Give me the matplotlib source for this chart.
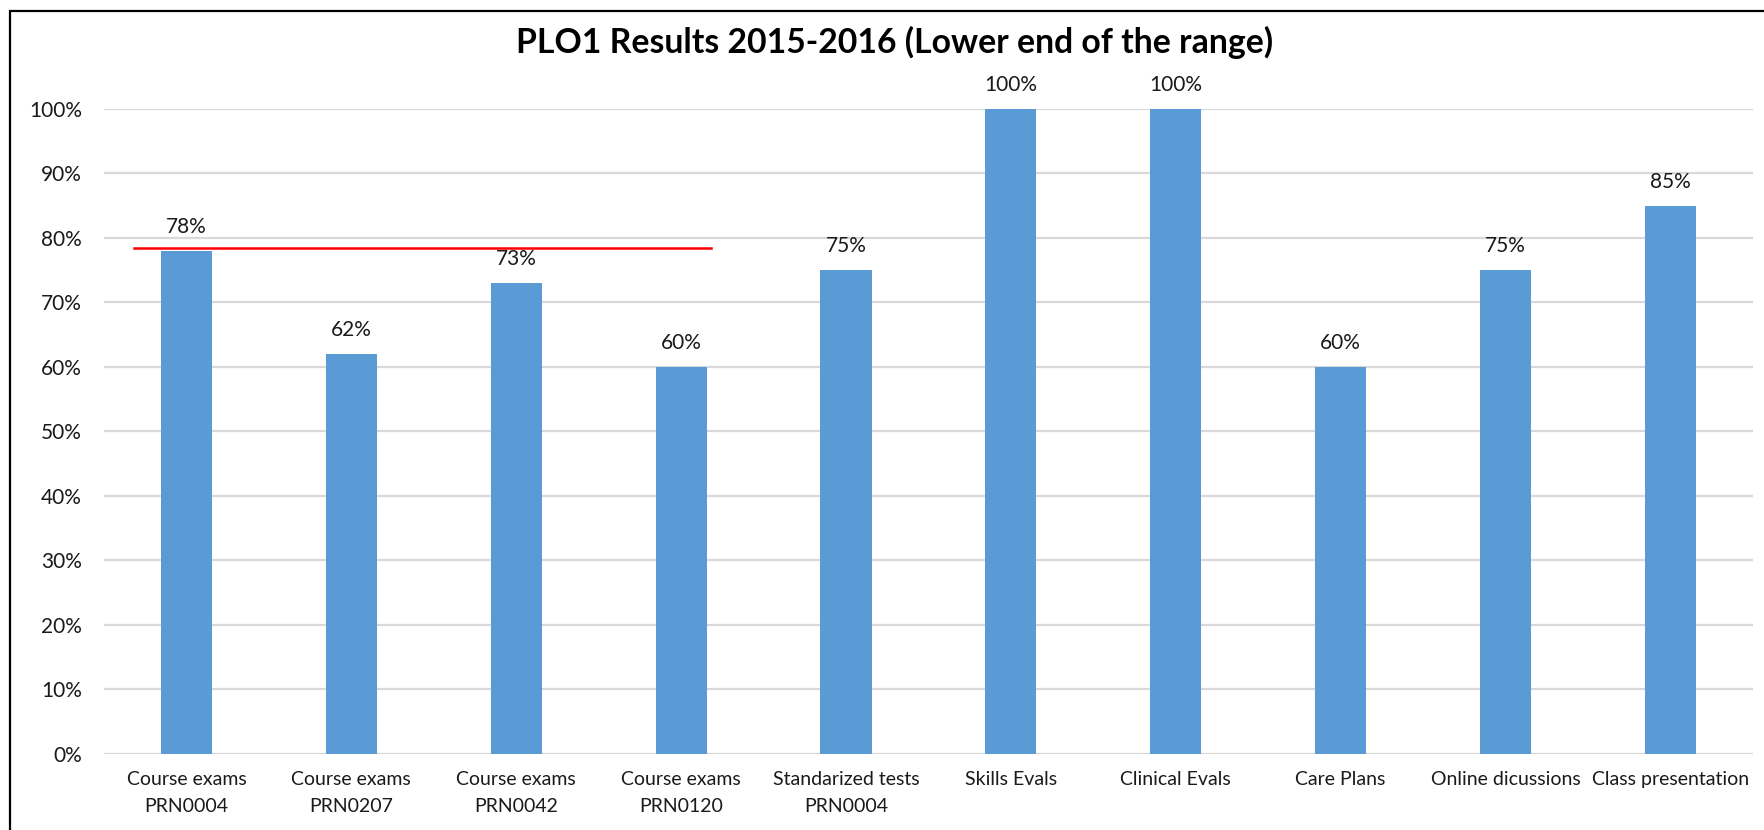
import matplotlib
matplotlib.use('Agg')
from matplotlib import pyplot as plt
from matplotlib.patches import Rectangle
import numpy as np

plt.rcParams['font.family'] = ['Lato', 'DejaVu Sans']

# data
categories = ['Course exams\nPRN0004', 'Course exams\nPRN0207', 'Course exams\nPRN0042',
              'Course exams\nPRN0120', 'Standarized tests\nPRN0004', 'Skills Evals',
              'Clinical Evals', 'Care Plans', 'Online dicussions', 'Class presentation']
values = [0.78, 0.62, 0.73, 0.60, 0.75, 1.00, 1.00, 0.60, 0.75, 0.85]
target = 0.784
target_span = [-0.32, 3.18]
yticks = np.arange(0, 1.01, 0.1)

fig = plt.figure(figsize=(17.64, 8.30), dpi=100)
ax = fig.add_axes([0.059, 0.0916, 0.9346, 0.7771])

x = np.arange(len(categories))
ax.bar(x, values, width=0.31, color='#5B9BD5', zorder=3)
for xi, v in zip(x, values):
    ax.annotate('{:.0f}%'.format(v * 100), (xi, v), xytext=(0, 10), textcoords='offset points',
                ha='center', va='bottom', fontsize=15, color='#1a1a1a', annotation_clip=False)

ax.plot(target_span, [target, target], color='#ff0000', lw=1.8, zorder=4)

ax.set_xlim(-0.5, len(categories) - 0.5)
ax.set_ylim(0, 1.0)
ax.set_yticks(yticks)
ax.set_yticklabels(['{:.0f}%'.format(t * 100) for t in yticks])
ax.set_xticks(x)
ax.set_xticklabels(categories, linespacing=1.75)
ax.tick_params(axis='y', length=0, pad=16, labelsize=15, labelcolor='#1a1a1a')
ax.tick_params(axis='x', length=0, pad=12, labelsize=14, labelcolor='#1a1a1a')
ax.yaxis.grid(True, color='#d9d9d9', lw=1.6, zorder=0)
ax.set_axisbelow(True)
for s in ax.spines.values():
    s.set_visible(False)

fig.text(0.507, 0.949, 'PLO1 Results 2015-2016 (Lower end of the range)', ha='center', va='center',
         fontsize=24.3, fontweight='bold')

# outer chart border (right/bottom cropped off in the original)
fig.patches.append(Rectangle((10 / 1764, -0.1), 1.2, 1.1 - 11 / 830, transform=fig.transFigure,
                             fill=False, edgecolor='black', lw=1.6))

plt.savefig('out.png', dpi=100)
